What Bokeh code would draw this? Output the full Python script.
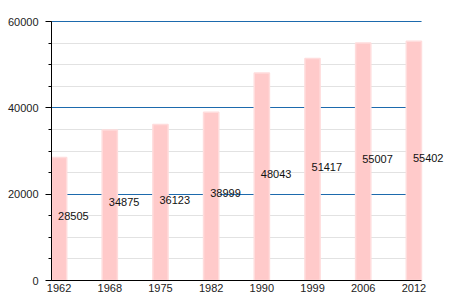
from bokeh.plotting import figure
from bokeh.models import Range1d, SingleIntervalTicker, FixedTicker, ColumnDataSource, LabelSet
from bokeh.core.properties import value
from bokeh.embed import file_html
from bokeh.resources import INLINE

years = ["1962", "1968", "1975", "1982", "1990", "1999", "2006", "2012"]
population = [28505, 34875, 36123, 38999, 48043, 51417, 55007, 55402]
y_max = 60000

xs = list(range(len(years)))
src = ColumnDataSource(data=dict(
    x=xs,
    top=population,
    half=[v / 2 for v in population],
    label=[str(v) for v in population],
))

# plotting area: axis region 370 px wide, extra 29 px on the right so that last label is not clipped
x_lo, x_hi = -0.15, len(years) - 1 + 0.15
plot_px, extra_px = 370, 29
x_end = x_lo + (x_hi - x_lo) * (plot_px + extra_px) / plot_px
# a few extra pixels on top so that the top grid line is not clipped
y_px, top_px = 259, 3
y_end = y_max * (y_px + top_px) / y_px

p = figure(frame_width=plot_px + extra_px, frame_height=y_px + top_px, output_backend="svg",
           toolbar_location=None, x_range=Range1d(x_lo, x_end), y_range=Range1d(0, y_end),
           min_border_left=51, min_border_right=0, min_border_top=21 - top_px, min_border_bottom=20)
p.outline_line_color = None
p.background_fill_color = "white"
p.border_fill_color = "white"

p.xgrid.grid_line_color = None
p.ygrid.ticker = SingleIntervalTicker(interval=20000, num_minor_ticks=4)
p.ygrid.bounds = (0, y_max)
p.ygrid.cross_bounds = (x_lo, x_hi)
p.ygrid.grid_line_color = "#1d6aad"
p.ygrid.grid_line_width = 1
p.ygrid.minor_grid_line_color = "#e2e2e2"
p.ygrid.minor_grid_line_width = 1

p.vbar(x="x", top="top", width=0.3, bottom=0, source=src,
       fill_color="#ffcaca", line_color="#ffdcdc", line_width=1.5)

labels = LabelSet(x="x", y="half", text="label", source=src, text_align="left",
                  text_baseline="middle", x_offset=-1, y_offset=3,
                  text_font=value("Liberation Sans"), text_font_size=value("11px"),
                  text_color="#111111")
p.add_layout(labels)

# y axis
ya = p.yaxis[0]
ya.ticker = SingleIntervalTicker(interval=20000, num_minor_ticks=4)
ya.bounds = (0, y_max)
ya.axis_line_color = "black"
ya.major_tick_out = 6
ya.major_tick_in = 0
ya.minor_tick_out = 3
ya.minor_tick_in = 0
ya.major_tick_line_color = "black"
ya.minor_tick_line_color = "black"
ya.major_label_standoff = 7
ya.major_label_text_font = "Liberation Sans"
ya.major_label_text_font_size = "11px"
ya.major_label_text_color = "#222222"
ya.formatter.use_scientific = False

# x axis
xa = p.xaxis[0]
xa.ticker = FixedTicker(ticks=xs)
xa.bounds = (x_lo, x_hi)
xa.major_label_overrides = {i: y for i, y in enumerate(years)}
xa.axis_line_color = "black"
xa.major_tick_line_color = None
xa.minor_tick_line_color = None
xa.major_tick_out = 0
xa.major_tick_in = 0
xa.major_label_standoff = 3
xa.major_label_text_font = "Liberation Sans"
xa.major_label_text_font_size = "11px"
xa.major_label_text_color = "#222222"

open("out.html", "w").write(file_html(p, INLINE))
